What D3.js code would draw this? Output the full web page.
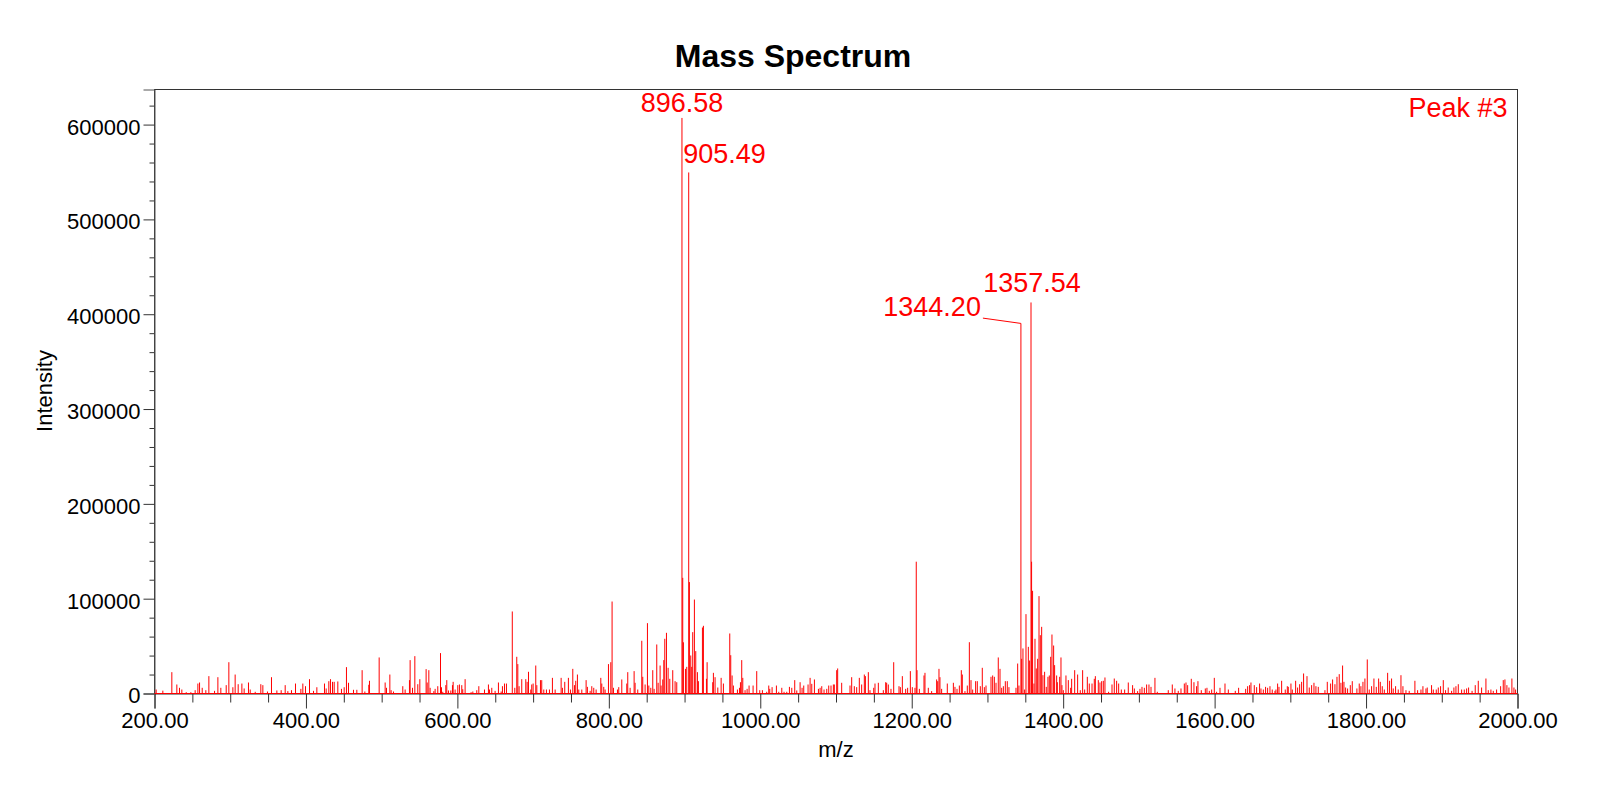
<!DOCTYPE html>
<html>
<head>
<meta charset="utf-8">
<script src="https://cdn.jsdelivr.net/npm/d3@7"></script>
<style>
  html, body { margin: 0; padding: 0; background: #fff; }
  svg { display: block; font-family: "Liberation Sans", Arial, sans-serif; }
</style>
</head>
<body>
<svg id="chart" width="1600" height="807"></svg>
<script>
// spectrum peaks: [m/z, intensity]
const peaks = [
  [202.2,4200],[211.0,3000],[222.9,22500],[229.5,9500],[233.0,6000],[236.1,4200],[241.9,1400],[248.0,1400],
  [253.7,3500],[257.3,10500],[259.5,11600],[263.0,6000],[267.8,3500],[271.8,18300],[279.3,2800],[283.7,17200],
  [287.6,6000],[294.7,8800],[298.2,33000],[303.5,6600],[306.5,20000],[310.5,9800],[315.4,10500],[318.4,5300],
  [324.1,11600],[326.4,4200],[333.0,1800],[340.4,9800],[343.1,8800],[349.2,2100],[354.5,17200],[361.6,3200],
  [367.3,3500],[372.6,8800],[376.1,2500],[380.9,3500],[386.2,10500],[393.3,4900],[395.9,10500],[399.4,7700],
  [404.7,15100],[410.0,2800],[414.4,6600],[424.5,10500],[426.7,5300],[430.2,13000],[432.4,15100],[435.1,12300],
  [437.3,12300],[442.1,12700],[446.9,4900],[450.5,6600],[453.5,27800],[456.2,11300],[462.8,3900],[467.2,3900],
  [474.2,24600],[477.8,2100],[483.0,9200],[483.9,13400],[496.7,38000],
  [504.6,11600],[506.4,6000],[510.8,20000],[512.5,3500],[515.6,2100],[527.9,7700],[531.0,4200],[536.7,14100],
  [537.6,35200],[540.7,6000],[543.8,39400],[547.7,9800],[550.4,15100],[558.7,25700],[560.1,11600],[562.3,24600],
  [564.0,6000],[568.9,2500],[570.6,4900],[574.1,7700],[577.7,42600],[579.0,6600],[580.7,1800],[584.7,8800],
  [586.0,14100],[588.2,3200],[591.3,3200],[593.5,8800],[594.4,12300],[597.0,4200],[600.5,8800],[602.7,9500],
  [605.8,8800],[607.1,4500],[610.2,15100],[618.1,1400],[620.4,2100],[625.6,3500],[628.3,7700],[635.8,4200],
  [641.0,9500],[642.4,4200],[645.4,6000],[649.8,2800],[654.2,11600],[657.8,2100],[659.5,7700],[662.2,10500],
  [664.8,10500],[672.5,86500],[675.8,6000],[678.4,38700],[679.8,31000],[681.5,7700],[685.0,15100],[690.3,15100],
  [692.1,12300],[693.9,22900],[696.9,4200],[698.2,9500],[700.0,10500],[703.5,29500],[704.9,8800],[709.7,14100],
  [711.4,14100],[714.1,4200],[717.6,4200],[721.6,4200],[725.5,16500],[729.1,4200],[737.0,16500],[738.7,6000],
  [741.8,12300],[746.6,16500],[749.3,4200],[752.4,26000],[754.6,8800],[756.3,13400],[758.5,20000],[760.3,4200],
  [764.3,4200],[770.0,14100],[771.7,7000],[775.3,2800],[777.5,7700],[780.1,6000],[783.2,4200],[789.4,16500],
  [790.7,10500],[793.3,7000],
  [795.1,4200],[799.5,31000],[802.6,33000],[804.3,97000],[806.1,6000],[811.4,4200],[813.1,6700],[817.1,14800],
  [823.7,10500],[825.0,22500],[828.1,6000],[833.4,23600],[834.7,11300],[838.2,4200],[843.5,55600],[844.8,17600],
  [847.9,9500],[851.0,74200],[852.8,8400],[855.4,6000],[858.0,24600],[859.8,4900],[863.3,51700],[865.1,11300],
  [867.7,29500],[869.0,8400],[871.2,14800],[872.6,35200],[873.9,57700],[876.1,64000],[878.3,27100],[880.5,15500],
  [884.4,24600],[887.5,13000],[889.7,11900],[897.6,122000],[898.5,54000],[901.2,26000],[902.9,28100],
  [906.4,117500],[908.2,40100],[909.5,28100],[910.8,64700],[913.0,99100],[914.8,44700],[917.0,22500],
  [918.3,13000],[923.6,69600],[924.9,71400],[928.9,15500],[929.8,33000],[937.2,11900],[938.1,21800],
  [940.3,17200],[943.9,6300],[948.3,16500],[951.3,10500],[959.7,63300],[961.0,40400],[962.8,19000],[964.5,8400],
  [969.8,4200],[972.5,6000],[973.8,11900],[975.5,35200],[976.9,16500],[979.9,3500],[982.6,4900],[985.2,8400],
  [990.5,8400],[995.3,23600],[999.3,3500],[1002.8,3500],[1008.5,1800],[1011.2,8400],[1012.5,4900],[1015.6,6700],
  [1021.3,8400],[1024.4,1800],[1028.4,6000],[1031.4,1800],[1035.0,1800],[1038.5,7000],[1041.6,6000],
  [1045.5,14100],[1048.2,3200],[1052.6,11900],[1055.2,6000],[1057.4,8400],[1063.1,9500],[1065.8,16500],
  [1068.0,10200],[1071.5,14800],[1076.8,4900],[1079.0,6000],[1081.2,7700],[1084.2,4200],[1087.8,4900],
  [1090.4,8400],
  [1093.4,8400],[1096.5,9500],[1097.8,9500],[1100.9,24600],[1102.2,26400],[1107.5,11300],[1118.5,8400],
  [1120.7,17200],[1124.2,7700],[1127.3,6700],[1130.8,16500],[1133.9,9500],[1137.4,20000],[1138.8,18300],
  [1142.7,22500],[1144.9,3500],[1149.8,6000],[1151.5,10500],[1155.9,11300],[1162.5,3500],[1165.6,11900],
  [1166.9,11300],[1169.1,9500],[1172.6,4900],[1176.2,33000],[1183.2,7700],[1185.0,6700],[1187.6,18300],
  [1192.0,4900],[1194.6,6000],[1198.2,23600],[1200.8,6700],[1204.3,6000],[1206.0,139000],[1207.0,24600],
  [1210.1,4900],[1216.2,19000],[1217.5,21800],[1221.9,6000],[1226.3,2500],[1232.9,14800],[1234.3,13000],
  [1236.0,26000],[1237.3,17200],[1239.5,4900],[1247.0,10500],[1255.0,11300],[1257.1,7000],[1259.8,4900],
  [1262.9,8400],[1265.5,24600],[1266.8,20000],[1270.3,2500],[1273.4,8400],[1276.1,54100],[1278.3,14100],
  [1280.5,4200],[1284.4,13000],[1286.6,13000],[1290.6,7700],[1293.2,27100],[1295.9,6700],[1298.1,8400],
  [1304.7,17600],[1306.9,19000],[1309.1,17600],[1311.3,11300],[1314.3,38000],[1316.6,26000],[1318.8,6000],
  [1321.0,7700],[1323.6,13000],[1326.2,13000],[1328.4,6700],[1337.7,6000],[1339.9,31600],[1341.6,8400],
  [1345.2,36600],[1346.9,47500],[1349.1,4200],[1350.9,83700],[1354.0,49200],[1355.7,34800],[1358.3,139000],
  [1359.6,108300],[1361.4,10500],[1362.8,57700],[1364.5,26400],[1366.3,36600],[1368.1,102700],[1369.8,61500],
  [1371.6,70300],[1373.3,19300],[1375.5,22900],[1377.7,7000],[1379.9,17600],[1381.7,19000],[1383.5,38700],
  [1385.2,62200],[1387.4,50600],[1388.7,29900],
  [1391.4,19000],[1392.3,11900],[1395.4,17600],[1397.1,38000],[1398.4,8800],[1400.2,3500],[1403.7,19000],
  [1406.8,14100],[1409.9,6000],[1411.2,15500],[1415.2,24600],[1419.1,20000],[1422.6,3500],[1425.7,24600],
  [1428.4,4200],[1431.9,17600],[1434.5,10500],[1438.1,10500],[1441.1,15500],[1442.5,18300],[1446.4,14100],
  [1448.6,11600],[1450.8,13000],[1453.0,13400],[1455.2,16900],[1460.0,1800],[1464.5,9500],[1467.5,15800],
  [1470.6,13400],[1473.3,10500],[1476.8,4200],[1481.2,4200],[1486.0,11600],[1491.7,8800],[1494.0,5300],
  [1498.3,2500],[1501.4,4900],[1504.1,7000],[1507.2,6000],[1510.2,9500],[1513.3,9500],[1516.0,7000],
  [1521.2,16500],[1524.3,1800],[1538.8,3500],[1544.1,9500],[1547.6,5300],[1552.0,2800],[1555.6,5300],
  [1560.0,10500],[1562.2,11600],[1564.4,8800],[1569.2,15500],[1572.7,11900],[1576.2,7700],[1578.0,13000],
  [1582.4,3500],[1587.7,5300],[1589.9,6000],[1593.0,2800],[1596.1,4200],[1599.6,16500],[1602.6,1800],
  [1607.1,6000],[1613.7,10500],[1618.1,4200],[1627.3,2800],[1631.7,6000],[1641.0,4900],[1643.6,7700],
  [1646.2,8800],[1648.0,11600],[1652.4,8800],[1655.5,6700],[1659.4,10500],[1661.2,5300],[1664.3,4200],
  [1667.3,7000],[1670.0,6000],[1673.1,7700],[1676.1,4200],[1679.7,2800],
  [1681.0,4200],[1683.2,10500],[1685.0,7000],[1688.5,13400],[1693.3,4200],[1696.0,7700],[1697.3,7000],
  [1700.8,10500],[1702.6,4200],[1707.0,13400],[1709.6,6300],[1712.3,9800],[1714.9,12300],[1717.5,21100],
  [1722.0,18300],[1725.0,6300],[1728.1,8800],[1731.2,11300],[1733.8,7700],[1736.9,7000],[1745.7,3500],
  [1748.8,12300],[1753.2,10500],[1755.8,14800],[1758.9,9800],[1761.6,17600],[1764.6,20400],[1766.8,11300],
  [1769.0,29500],[1770.8,12300],[1773.0,6300],[1775.6,5300],[1779.2,8800],[1781.8,13000],[1787.9,5300],
  [1791.0,10500],[1793.2,7700],[1795.9,12300],[1798.5,15800],[1801.6,35900],[1804.2,4200],[1807.3,7700],
  [1810.4,15800],[1813.5,7000],[1816.6,15800],[1818.8,12300],[1821.4,7700],[1824.1,4200],[1828.5,21800],
  [1831.1,13400],[1833.7,15800],[1835.9,5300],[1839.0,7700],[1842.5,4200],[1846.1,19300],[1848.7,7700],
  [1852.7,3500],[1857.0,2800],[1864.5,13400],[1868.1,3500],[1872.5,4200],[1875.1,7700],[1879.1,5300],
  [1880.8,6300],[1886.5,8800],[1888.8,4200],[1892.7,4200],[1895.4,6300],[1898.4,7700],[1902.0,14100],
  [1905.0,3500],[1908.5,6300],[1913.0,2800],[1916.0,6300],[1918.7,7700],[1921.8,9800],[1926.2,4200],
  [1929.7,4200],[1932.8,5300],[1935.4,6300],[1940.0,2800],[1944.2,8800],[1948.2,13400],[1952.6,6300],
  [1958.3,15800],[1961.4,3500],[1964.9,4200],[1968.0,2800],[1972.4,4200],[1977.7,7700],[1981.2,14100],
  [1983.4,14800],[1986.0,8800],[1988.7,6300],[1992.6,15800],[1995.3,6300],[1997.5,4200]
];

// labelled peaks
const labelMz = [896.58, 905.49, 1344.20, 1357.54];
const labelIntensity = [607000, 549500, 390300, 412400];
const labelText = ["896.58", "905.49", "1344.20", "1357.54"];

const xTicks = [200, 400, 600, 800, 1000, 1200, 1400, 1600, 1800, 2000];
const yTicks = [0, 100000, 200000, 300000, 400000, 500000, 600000];

const title = "Mass Spectrum";
const xTitle = "m/z";
const yTitle = "Intensity";
const peakTag = "Peak #3";

// Chart Dimensions
const width = 1600;
const height = 807;
const plot = { left: 154.5, right: 1517.5, top: 89.5, bottom: 693.5 };
const red = "#ff0000";

const svg = d3.select("#chart");
svg.append("rect").attr("width", width).attr("height", height).attr("fill", "#fff");

// Scales
const x = d3.scaleLinear().domain([200, 2000]).range([plot.left, plot.right]);
const y = d3.scaleLinear().domain([0, 637000]).range([plot.bottom, plot.top]);

// frame
svg.append("rect")
  .attr("x", plot.left).attr("y", plot.top)
  .attr("width", plot.right - plot.left).attr("height", plot.bottom - plot.top)
  .attr("fill", "none").attr("stroke", "#333").attr("stroke-width", 1);

// Minor ticks
svg.append("g")
  .attr("transform", `translate(0,${plot.bottom})`)
  .call(d3.axisBottom(x).tickValues(d3.range(250, 2000, 50).filter(v => v % 200 !== 0)).tickSize(9).tickFormat(""))
  .call(g => g.select(".domain").remove())
  .call(g => g.selectAll("line").attr("stroke", "#333"));

svg.append("g")
  .attr("transform", `translate(${plot.left},0)`)
  .call(d3.axisLeft(y).tickValues(d3.range(20000, 640000, 20000).filter(v => v % 100000 !== 0)).tickSize(5).tickFormat(""))
  .call(g => g.select(".domain").remove())
  .call(g => g.selectAll("line").attr("stroke", "#333"));

// Major axes
svg.append("g")
  .attr("transform", `translate(0,${plot.bottom})`)
  .call(d3.axisBottom(x).tickValues(xTicks).tickSize(15).tickPadding(4).tickFormat(d3.format(".2f")))
  .call(g => g.select(".domain").attr("stroke", "#333"))
  .call(g => g.selectAll("line").attr("stroke", "#333"))
  .call(g => g.selectAll("text")
    .attr("font-family", "Liberation Sans, Arial, sans-serif")
    .attr("font-size", "22px").attr("fill", "#000"));

svg.append("g")
  .attr("transform", `translate(${plot.left},0)`)
  .call(d3.axisLeft(y).tickValues(yTicks).tickSize(11).tickPadding(3).tickFormat(d3.format("d")))
  .call(g => g.select(".domain").attr("stroke", "#555"))
  .call(g => g.selectAll("line").attr("stroke", "#333"))
  .call(g => g.selectAll("text")
    .attr("dy", "0.43em")
    .attr("font-family", "Liberation Sans, Arial, sans-serif")
    .attr("font-size", "22px").attr("fill", "#000"));

// Spectrum sticks
const chartGroup = svg.append("g");

chartGroup.selectAll("line.peak")
  .data(peaks)
  .join("line")
  .attr("class", "peak")
  .attr("x1", d => x(d[0]))
  .attr("x2", d => x(d[0]))
  .attr("y1", y(0))
  .attr("y2", d => y(d[1]))
  .attr("stroke", red)
  .attr("stroke-width", 1);

chartGroup.selectAll("line.main")
  .data(labelMz)
  .join("line")
  .attr("class", "main")
  .attr("x1", d => x(d))
  .attr("x2", d => x(d))
  .attr("y1", y(0))
  .attr("y2", (d, i) => y(labelIntensity[i]))
  .attr("stroke", red)
  .attr("stroke-width", 1);

// baseline
chartGroup.append("line")
  .attr("x1", plot.left).attr("x2", plot.right)
  .attr("y1", y(0)).attr("y2", y(0))
  .attr("stroke", red).attr("stroke-width", 1);

// Peak labels (offsets in px to keep them apart)
const placement = [
  { anchor: "middle", dx: 0, dy: -5.5 },
  { anchor: "start", dx: -5.5, dy: -9 },
  { anchor: "end", dx: -40, dy: -7, leader: true },
  { anchor: "middle", dx: 1, dy: -10 }
];

labelMz.forEach((mz, i) => {
  const px = x(mz);
  const py = y(labelIntensity[i]);
  const p = placement[i];
  const tx = px + p.dx;
  const ty = py + p.dy;
  svg.append("text")
    .attr("x", tx).attr("y", ty)
    .attr("text-anchor", p.anchor)
    .attr("font-size", "27px")
    .attr("fill", red)
    .text(labelText[i]);
  if (p.leader) {
    svg.append("line")
      .attr("x1", tx + 2).attr("y1", ty + 1.7)
      .attr("x2", px).attr("y2", py)
      .attr("stroke", red).attr("stroke-width", 1);
  }
});

svg.append("text")
  .attr("x", plot.right - 10).attr("y", 116.5)
  .attr("text-anchor", "end")
  .attr("font-size", "27px")
  .attr("fill", red)
  .text(peakTag);

// Titles
svg.append("text")
  .attr("x", 793).attr("y", 67)
  .attr("text-anchor", "middle")
  .attr("font-size", "32px")
  .attr("font-weight", "bold")
  .text(title);

svg.append("text")
  .attr("x", 836).attr("y", 757)
  .attr("text-anchor", "middle")
  .attr("font-size", "22px")
  .text(xTitle);

svg.append("text")
  .attr("transform", "translate(52,391) rotate(-90)")
  .attr("text-anchor", "middle")
  .attr("font-size", "22px")
  .text(yTitle);
</script>
</body>
</html>
